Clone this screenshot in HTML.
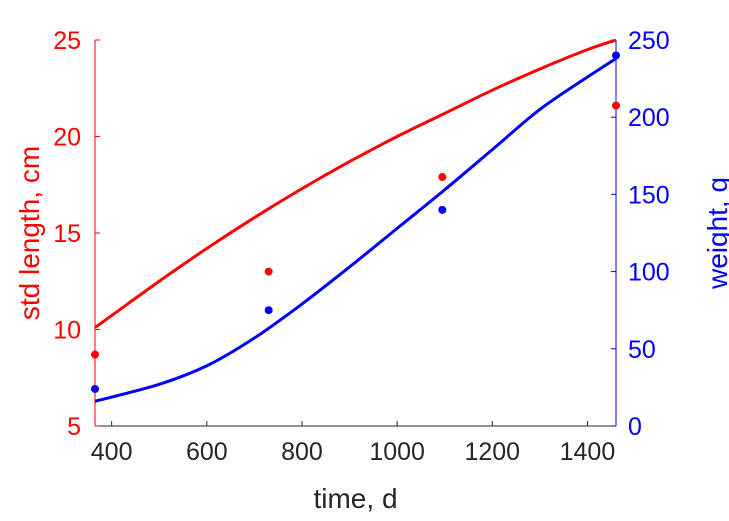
<!DOCTYPE html>
<html><head><meta charset="utf-8"><style>
body{margin:0;background:#fff;}
svg{display:block;font-family:"Liberation Sans",Arial,sans-serif;}
</style></head><body>
<svg id="chart" width="729" height="521"></svg>
<script>
const curveTimes=[365,500,600,700,800,900,1000,1100,1200,1300,1400,1460];
const lengthCurve=[10.1,12.5,14.2,15.8,17.3,18.7,20.0,21.2,22.4,23.5,24.5,25.0];
const weightCurve=[16,27,39,57,79,103,128,153,179,205,226,238];
const obsTimes=[365,730,1095,1460];
const lengthObs=[8.7,13.0,17.9,21.6];
const weightObs=[24,75,140,240];
const xTicks=[400,600,800,1000,1200,1400];
const lTicks=[5,10,15,20,25];
const wTicks=[0,50,100,150,200,250];
const X0=95,X1=616,Y0=426,Y1=40;
const sx=v=>X0+(v-365)/(1460-365)*(X1-X0);
const sl=v=>Y0-(v-5)/20*(Y0-Y1);
const sw=v=>Y0-v/250*(Y0-Y1);
const svg=document.getElementById('chart');
const NS='http://www.w3.org/2000/svg';
function mk(t,a,txt){const e=document.createElementNS(NS,t);for(const k in a)e.setAttribute(k,a[k]);if(txt!==undefined)e.textContent=txt;svg.appendChild(e);return e;}
function smooth(pts){let d='M'+pts[0][0]+','+pts[0][1];for(let i=0;i<pts.length-1;i++){const p0=pts[i-1]||pts[i],p1=pts[i],p2=pts[i+1],p3=pts[i+2]||p2;const c1=[p1[0]+(p2[0]-p0[0])/6,p1[1]+(p2[1]-p0[1])/6],c2=[p2[0]-(p3[0]-p1[0])/6,p2[1]-(p3[1]-p1[1])/6];d+='C'+c1+' '+c2+' '+p2;}return d;}
let e;
e=mk('line',{x1:X0,y1:Y0,x2:X1,y2:Y0,stroke:'#262626','stroke-width':1});


e=mk('line',{x1:X0,y1:Y0,x2:X0,y2:Y1,stroke:'#f00','stroke-width':1});


e=mk('line',{x1:X1,y1:Y0,x2:X1,y2:Y1,stroke:'#00f','stroke-width':1});


xTicks.forEach(t=>{
 e=mk('line',{x1:sx(t),y1:Y0,x2:sx(t),y2:Y0-5,stroke:'#262626'});
 
 
 e=mk('text',{x:sx(t),y:Y0+34,'text-anchor':'middle','font-size':25,fill:'#262626'},t);
 
 
});
lTicks.forEach(t=>{
 e=mk('line',{x1:X0,y1:sl(t),x2:X0+5,y2:sl(t),stroke:'#f00'});
 
 
 e=mk('text',{x:X0-14,y:sl(t)+9,'text-anchor':'end','font-size':25,fill:'#f00'},t);
 
 
});
wTicks.forEach(t=>{
 e=mk('line',{x1:X1,y1:sw(t),x2:X1-5,y2:sw(t),stroke:'#00f'});
 
 
 e=mk('text',{x:X1+12,y:sw(t)+9,'text-anchor':'start','font-size':25,fill:'#00f'},t);
 
 
});
e=mk('path',{d:smooth(curveTimes.map((t,i)=>[sx(t),sl(lengthCurve[i])])),fill:'none',stroke:'#f00','stroke-width':3});


e=mk('path',{d:smooth(curveTimes.map((t,i)=>[sx(t),sw(weightCurve[i])])),fill:'none',stroke:'#00f','stroke-width':3});


obsTimes.forEach((t,i)=>{
 e=mk('circle',{cx:sx(t),cy:sl(lengthObs[i]),r:4,fill:'#f00'});
 
 
 e=mk('circle',{cx:sx(t),cy:sw(weightObs[i]),r:4,fill:'#00f'});
 
 
});
e=mk('text',{x:(X0+X1)/2,y:508,'text-anchor':'middle','font-size':28,fill:'#262626'},'time, d');


e=mk('text',{x:0,y:0,'text-anchor':'middle','font-size':28,fill:'#f00',transform:'translate(39,233) rotate(-90)'},'std length, cm');


e=mk('text',{x:0,y:0,'text-anchor':'middle','font-size':28,fill:'#00f',transform:'translate(727,233) rotate(-90)'},'weight, g');


</script>
</body></html>
